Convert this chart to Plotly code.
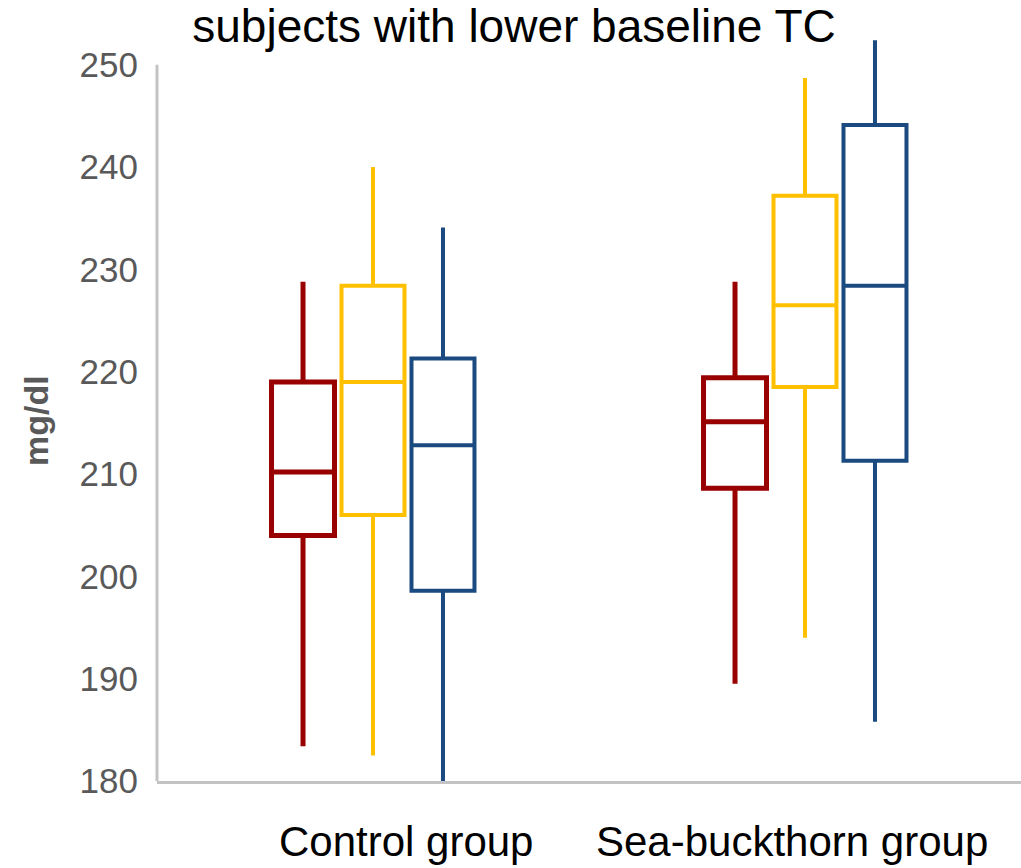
import plotly.graph_objects as go

# Group labels on the category axis
groups = ["Control group", "Sea-buckthorn group"]

# Box statistics per series (mg/dl): one value per group
series_names = ["Time point 1", "Time point 2", "Time point 3"]
series_colors = ["#990000", "#FFC000", "#1B4A80"]
series_widths = [5, 4, 4]

q1_vals = [[204.0, 208.6], [206.0, 218.5], [198.6, 211.3]]
median_vals = [[210.2, 215.1], [219.0, 226.5], [212.8, 228.4]]
q3_vals = [[219.0, 219.4], [228.4, 237.2], [221.3, 244.1]]
lower_vals = [[183.4, 189.5], [182.5, 194.0], [180.0, 185.8]]
upper_vals = [[228.8, 228.8], [240.0, 248.7], [234.1, 252.4]]

y_ticks = [180, 190, 200, 210, 220, 230, 240, 250]

fig = go.Figure()
for i, name in enumerate(series_names):
    fig.add_trace(go.Box(
        name=name,
        x=groups,
        q1=q1_vals[i],
        median=median_vals[i],
        q3=q3_vals[i],
        lowerfence=lower_vals[i],
        upperfence=upper_vals[i],
        line=dict(color=series_colors[i], width=series_widths[i]),
        fillcolor="rgba(255,255,255,0)",
        whiskerwidth=0,
        boxpoints=False,
        showlegend=False,
        hoverinfo="skip",
    ))

axis_gray = "#C3C3C3"
font_family = "Liberation Sans, Arial, sans-serif"

fig.update_layout(
    width=1021,
    height=868,
    margin=dict(l=157, r=0, t=34, b=87),
    paper_bgcolor="white",
    plot_bgcolor="white",
    boxmode="group",
    boxgap=0.514,
    boxgroupgap=0.1,
    font=dict(family=font_family),
    title=dict(
        text="subjects with lower baseline TC",
        font=dict(size=46, color="black", family=font_family),
        xref="container", x=514 / 1021, xanchor="center",
        yref="container", y=1 - 10 / 868, yanchor="top",
        pad=dict(t=0),
    ),
    xaxis=dict(
        type="category",
        range=[-0.5, 1.5],
        showline=True,
        linecolor=axis_gray,
        linewidth=3,
        showgrid=False,
        zeroline=False,
        showticklabels=False,
        ticks="",
    ),
    yaxis=dict(
        range=[180, 253],
        tickvals=y_ticks,
        ticktext=[str(v) for v in y_ticks],
        tickfont=dict(size=35, color="#595959", family=font_family),
        showline=False,
        showgrid=False,
        zeroline=False,
        ticks="",
        ticklabelstandoff=18,
    ),
)

# Vertical axis line spanning only the labelled range
fig.add_shape(type="line", xref="paper", yref="y",
              x0=0, x1=0, y0=180, y1=250,
              line=dict(color=axis_gray, width=3), layer="below")

# Category labels under each group
label_shifts = [33, -13]
for g, shift in zip(groups, label_shifts):
    fig.add_annotation(
        x=g, xref="x", y=0, yref="paper",
        yanchor="top", xanchor="center",
        xshift=shift, yshift=-35,
        text=g, showarrow=False,
        font=dict(size=42, color="black", family=font_family),
    )

# Y axis title
fig.add_annotation(
    x=-(157 - 36) / 864, xref="paper", xanchor="center",
    y=(781 - 420) / 747, yref="paper", yanchor="middle",
    text="<b>mg/dl</b>", textangle=-90, showarrow=False,
    font=dict(size=34, color="#595959", family=font_family),
)

fig.write_html("out.html")
